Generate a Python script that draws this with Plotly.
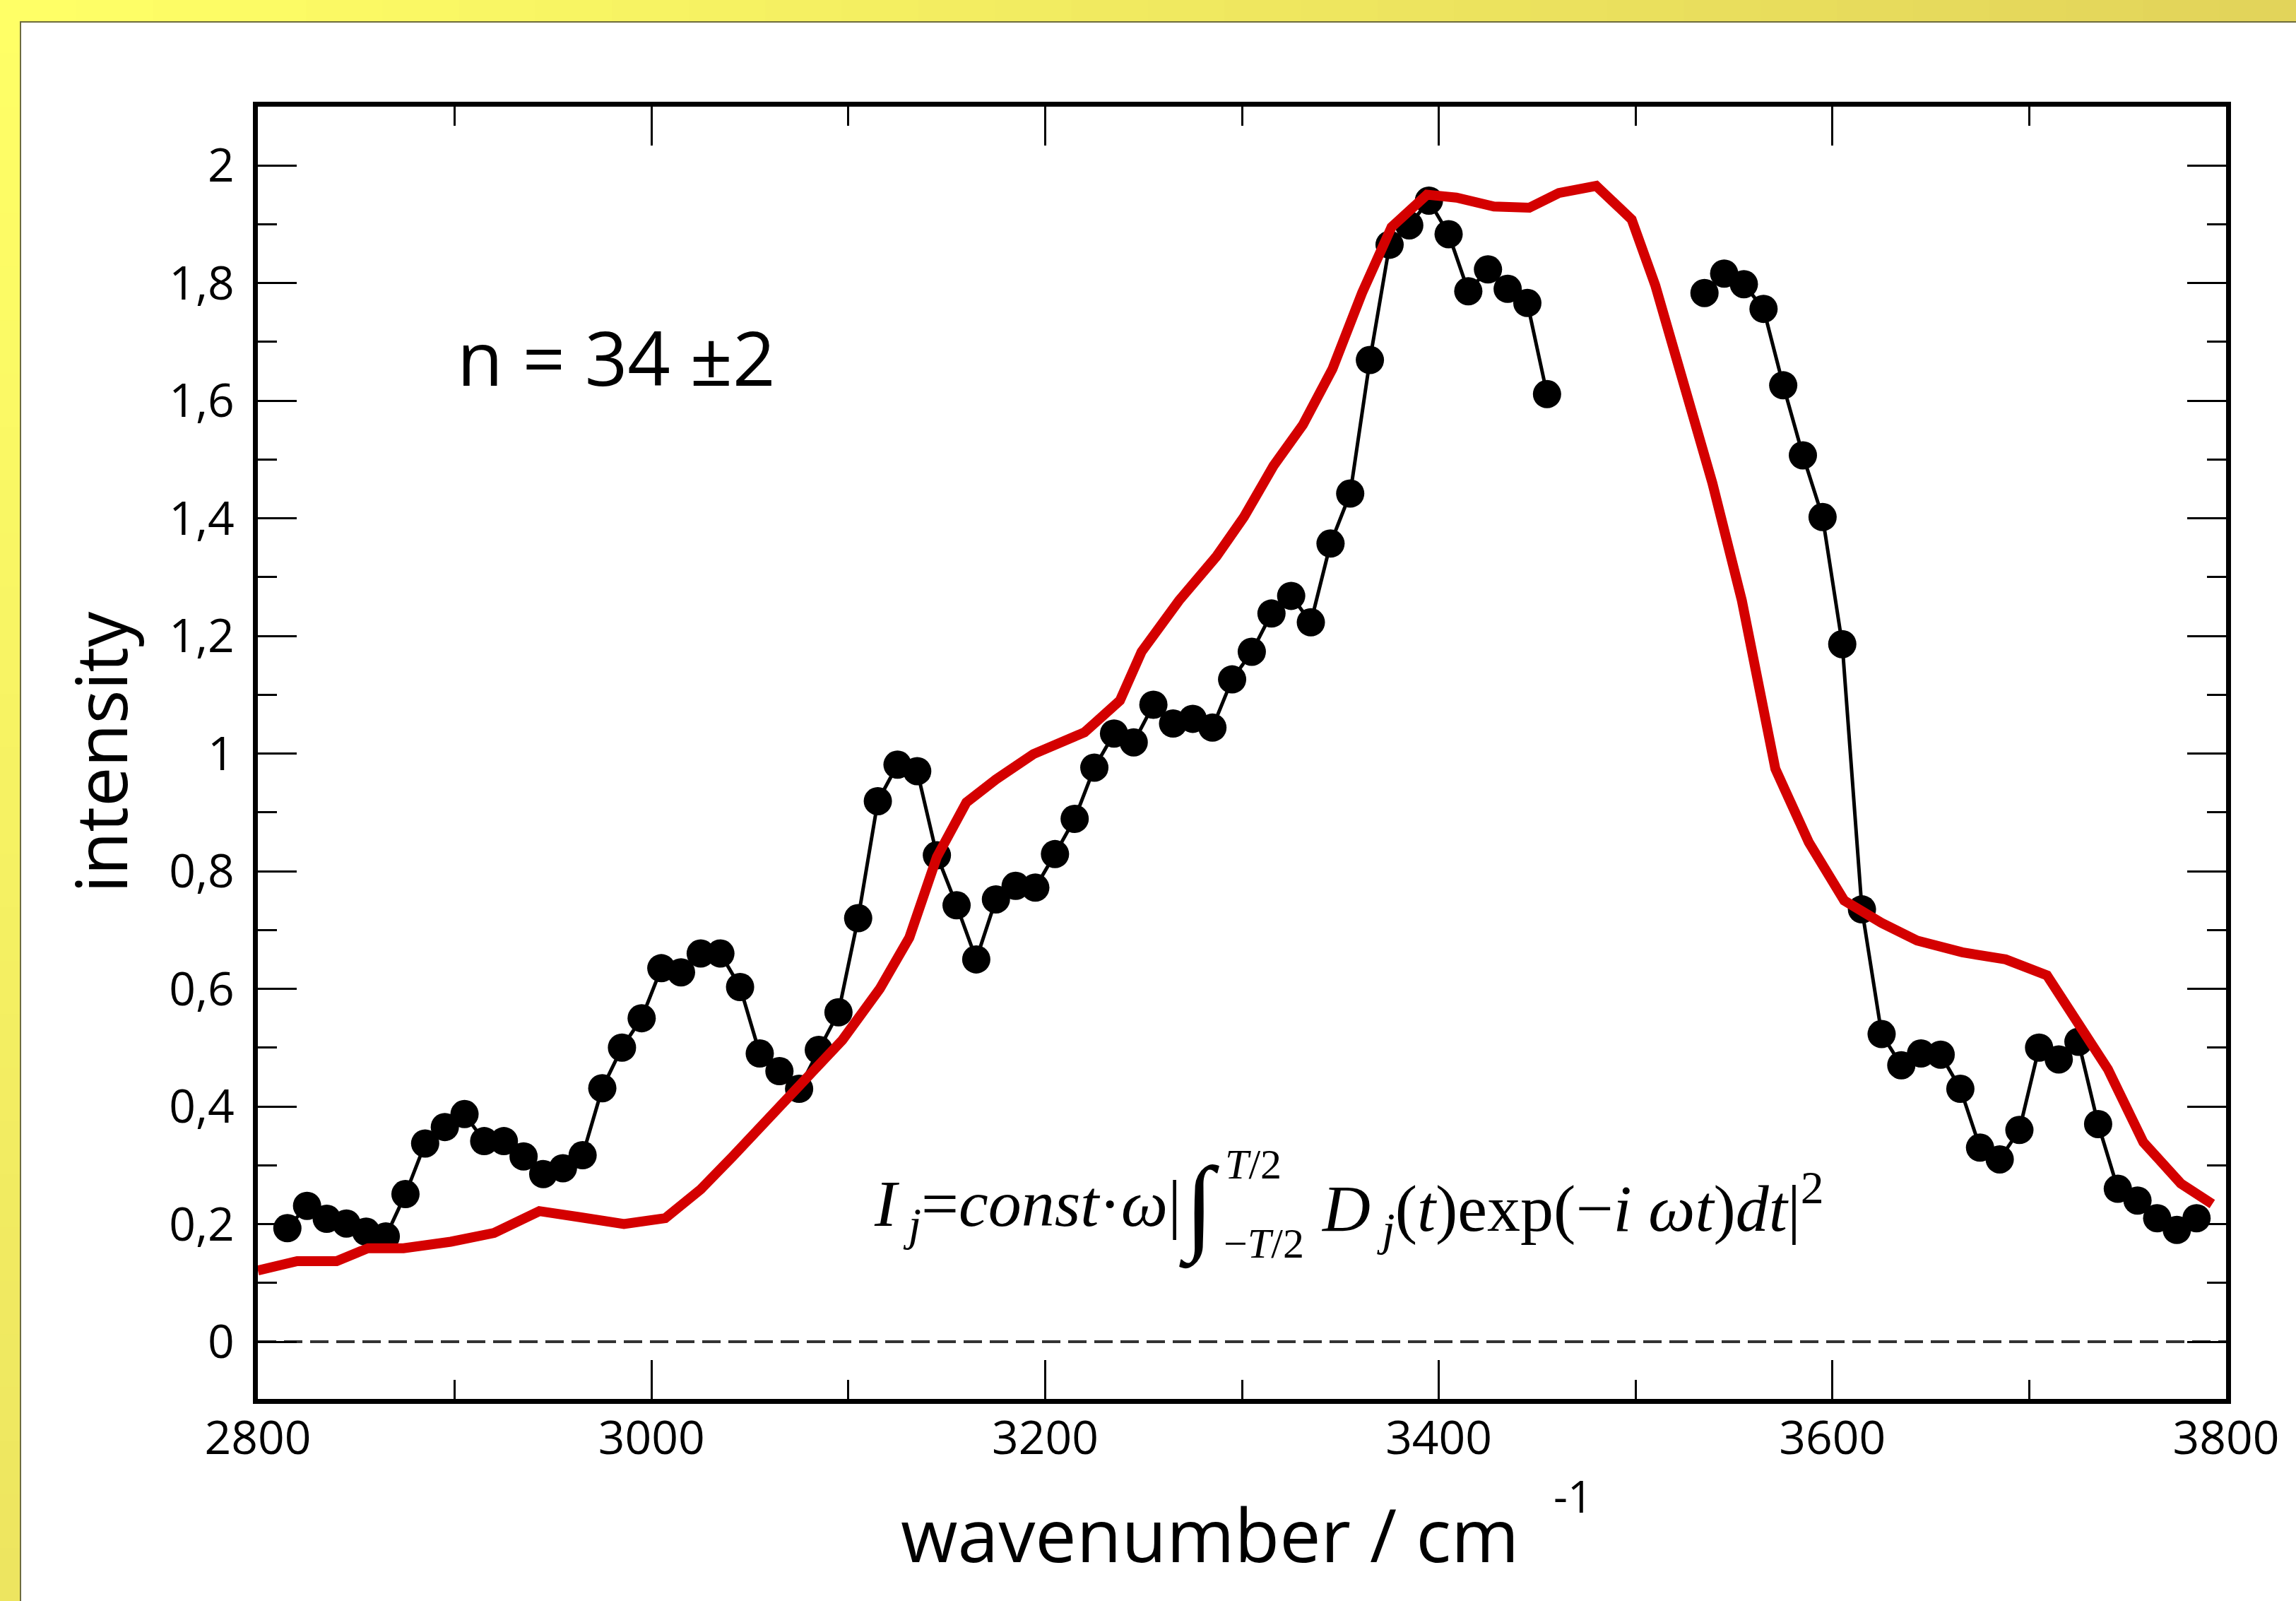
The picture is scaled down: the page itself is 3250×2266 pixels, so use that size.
import plotly.graph_objects as go

W, H = 3250, 2266
L, R, T, B = 365, 3151, 151, 1980


def px_x(p):
    return (p - L) / (R - L)


def px_y(p):
    return (B - p) / (B - T)


# ---------------- data ----------------
black_x = [2815, 2825, 2835, 2845, 2855, 2865, 2875, 2885, 2895, 2905,
           2915, 2925, 2935, 2945, 2955, 2965, 2975, 2985, 2995, 3005,
           3015, 3025, 3035, 3045, 3055, 3065, 3075, 3085, 3095, 3105,
           3115, 3125, 3135, 3145, 3155, 3165, 3175, 3185, 3195, 3205,
           3215, 3225, 3235, 3245, 3255, 3265, 3275, 3285, 3295, 3305,
           3315, 3325, 3335, 3345, 3355, 3365, 3375, 3385, 3395, 3405,
           3415, 3425, 3435, 3445, 3455, 3495,
           3535, 3545, 3555, 3565, 3575, 3585, 3595, 3605, 3615, 3625,
           3635, 3645, 3655, 3665, 3675, 3685, 3695, 3705, 3715, 3725,
           3735, 3745, 3755, 3765, 3775, 3785]
black_y = [0.193, 0.231, 0.209, 0.201, 0.187, 0.179, 0.251, 0.337, 0.365, 0.387,
           0.341, 0.341, 0.315, 0.285, 0.295, 0.317, 0.431, 0.500, 0.550, 0.635,
           0.628, 0.660, 0.660, 0.603, 0.490, 0.460, 0.430, 0.496, 0.560, 0.720,
           0.919, 0.981, 0.970, 0.827, 0.742, 0.650, 0.752, 0.775, 0.772, 0.829,
           0.889, 0.976, 1.034, 1.019, 1.083, 1.051, 1.059, 1.044, 1.126, 1.173,
           1.238, 1.268, 1.223, 1.357, 1.442, 1.669, 1.865, 1.898, 1.940, 1.883,
           1.786, 1.823, 1.790, 1.766, 1.611, None,
           1.783, 1.816, 1.798, 1.756, 1.626, 1.507, 1.402, 1.186, 0.735, 0.523,
           0.470, 0.490, 0.488, 0.430, 0.330, 0.310, 0.360, 0.500, 0.480, 0.510,
           0.370, 0.260, 0.240, 0.210, 0.190, 0.210]

red_x = [2800, 2820, 2840, 2856, 2874, 2898, 2920, 2943, 2963, 2986,
         3007, 3025, 3041, 3060, 3079, 3097, 3116, 3131, 3145, 3160,
         3175, 3194, 3220, 3238, 3249, 3268, 3287, 3301, 3316, 3331,
         3346, 3361, 3376, 3394, 3409, 3428, 3446, 3461, 3480, 3498,
         3510, 3524, 3539, 3554, 3571, 3588, 3606, 3625, 3643, 3666,
         3688, 3709, 3725, 3740, 3758, 3777, 3793]
red_y = [0.121, 0.137, 0.137, 0.159, 0.159, 0.170, 0.185, 0.222, 0.212, 0.200,
         0.210, 0.259, 0.314, 0.381, 0.446, 0.513, 0.600, 0.687, 0.824, 0.917,
         0.956, 0.999, 1.036, 1.090, 1.173, 1.260, 1.335, 1.402, 1.489, 1.559,
         1.654, 1.783, 1.895, 1.950, 1.945, 1.930, 1.928, 1.953, 1.965, 1.908,
         1.796, 1.634, 1.460, 1.260, 0.974, 0.849, 0.750, 0.712, 0.682, 0.662,
         0.650, 0.623, 0.538, 0.463, 0.339, 0.269, 0.234]

x_tickvals = [2800, 3000, 3200, 3400, 3600, 3800]
x_ticktext = ["2800", "3000", "3200", "3400", "3600", "3800"]
y_tickvals = [0, 0.2, 0.4, 0.6, 0.8, 1.0, 1.2, 1.4, 1.6, 1.8, 2.0]
y_ticktext = ["0", "0,2", "0,4", "0,6", "0,8", "1", "1,2", "1,4", "1,6", "1,8", "2"]

x_title = "wavenumber / cm"
x_title_sup = "-1"
y_title = "intensity"
label_n = "n = 34 ±2"

# ---------------- figure ----------------
fig = go.Figure()
fig.add_trace(go.Scatter(
    x=black_x, y=black_y, mode="lines+markers",
    line=dict(color="black", width=5),
    marker=dict(size=40, color="black"),
    connectgaps=False, hoverinfo="skip"))
fig.add_trace(go.Scatter(
    x=red_x, y=red_y, mode="lines",
    line=dict(color="#D40000", width=14), hoverinfo="skip"))

shapes = []


def lerp(c1, c2, t):
    return "rgb(%d,%d,%d)" % tuple(round(a + (b - a) * t) for a, b in zip(c1, c2))


N = 30
top_l, top_r, bot_l = (255, 255, 102), (226, 212, 90), (237, 229, 96)
for i in range(N):
    x0 = W * i / N
    x1 = W * (i + 1) / N + 2
    shapes.append(dict(type="rect", xref="paper", yref="paper",
                       x0=px_x(x0), x1=px_x(x1), y0=px_y(31), y1=px_y(0),
                       fillcolor=lerp(top_l, top_r, i / (N - 1)),
                       line=dict(width=0), layer="below"))
for i in range(N):
    y0 = H * i / N
    y1 = H * (i + 1) / N + 2
    shapes.append(dict(type="rect", xref="paper", yref="paper",
                       x0=px_x(0), x1=px_x(29), y0=px_y(y1), y1=px_y(y0),
                       fillcolor=lerp(top_l, bot_l, i / (N - 1)),
                       line=dict(width=0), layer="below"))
# white panel outline
shapes.append(dict(type="rect", xref="paper", yref="paper",
                   x0=px_x(29), x1=px_x(W + 20), y0=px_y(H + 20), y1=px_y(31),
                   fillcolor="white", line=dict(color="#6e6c3c", width=2),
                   layer="below"))
# zero dashed line
shapes.append(dict(type="line", xref="x", yref="y", x0=2800, x1=3800, y0=0, y1=0,
                   line=dict(color="#333333", width=4, dash="26px,11px"),
                   layer="below"))

ann = []
ann.append(dict(text=y_title, xref="paper", yref="paper",
                x=px_x(141), y=px_y(1065), textangle=-90, showarrow=False,
                xanchor="center", yanchor="middle",
                font=dict(family="Open Sans", size=100, color="black")))
ann.append(dict(text=x_title, xref="paper", yref="paper",
                x=px_x(1712), y=px_y(2170), showarrow=False,
                xanchor="center", yanchor="middle",
                font=dict(family="Open Sans", size=104, color="black")))
ann.append(dict(text=x_title_sup, xref="paper", yref="paper",
                x=px_x(2226), y=px_y(2117), showarrow=False,
                xanchor="center", yanchor="middle",
                font=dict(family="Open Sans", size=62, color="black")))
ann.append(dict(text=label_n, xref="paper", yref="paper",
                x=px_x(645), y=px_y(505), showarrow=False,
                xanchor="left", yanchor="middle",
                font=dict(family="Open Sans", size=106, color="black")))

serif = "Liberation Serif"
part1 = "<i>I</i><sub> <i>j</i></sub>=<i>const</i>·<i>ω</i>|"
part2 = ("<i>D</i><sub> <i>j</i></sub>(<i>t</i>)exp(−<i>i</i> <i>ωt</i>)"
         "<i>dt</i>|<sup>2</sup>")
ann.append(dict(text=part1, xref="paper", yref="paper",
                x=px_x(1674), y=px_y(1710), showarrow=False,
                xanchor="right", yanchor="middle",
                font=dict(family=serif, size=94, color="black")))
ann.append(dict(text="∫", xref="paper", yref="paper",
                x=px_x(1697), y=px_y(1708), showarrow=False,
                xanchor="center", yanchor="middle",
                font=dict(family=serif, size=150, color="black")))
ann.append(dict(text="<i>T</i>/2", xref="paper", yref="paper",
                x=px_x(1774), y=px_y(1648), showarrow=False,
                xanchor="center", yanchor="middle",
                font=dict(family=serif, size=60, color="black")))
ann.append(dict(text="−<i>T</i>/2", xref="paper", yref="paper",
                x=px_x(1789), y=px_y(1760), showarrow=False,
                xanchor="center", yanchor="middle",
                font=dict(family=serif, size=60, color="black")))
ann.append(dict(text=part2, xref="paper", yref="paper",
                x=px_x(1868), y=px_y(1710), showarrow=False,
                xanchor="left", yanchor="middle",
                font=dict(family=serif, size=94, color="black")))

fig.update_layout(
    width=W, height=H,
    margin=dict(l=L, r=W - R, t=T, b=H - B, pad=0),
    paper_bgcolor="white", plot_bgcolor="rgba(0,0,0,0)",
    showlegend=False,
    font=dict(family="Open Sans", color="black"),
    shapes=shapes, annotations=ann,
)
y_lo = -(B - 1899) / 832.5
y_hi = 2 + (234 - T) / 832.5
fig.update_xaxes(
    range=[2800, 3800], tickvals=x_tickvals, ticktext=x_ticktext,
    ticks="inside", ticklen=55, tickwidth=3, tickcolor="black",
    showline=True, linewidth=7, linecolor="black", mirror="ticks",
    showgrid=False, zeroline=False,
    tickfont=dict(family="Open Sans", size=66, color="black"),
    ticklabelstandoff=-8,
    minor=dict(dtick=100, tick0=2800, ticks="inside", ticklen=27, tickwidth=3,
               tickcolor="black", showgrid=False),
)
fig.update_yaxes(
    range=[y_lo, y_hi], tickvals=y_tickvals, ticktext=y_ticktext,
    ticks="inside", ticklen=55, tickwidth=3, tickcolor="black",
    showline=True, linewidth=7, linecolor="black", mirror="ticks",
    showgrid=False, zeroline=False,
    tickfont=dict(family="Open Sans", size=66, color="black"),
    ticklabelstandoff=13,
    minor=dict(dtick=0.1, tick0=0, ticks="inside", ticklen=27, tickwidth=3,
               tickcolor="black", showgrid=False),
)

fig.write_html("out.html")
